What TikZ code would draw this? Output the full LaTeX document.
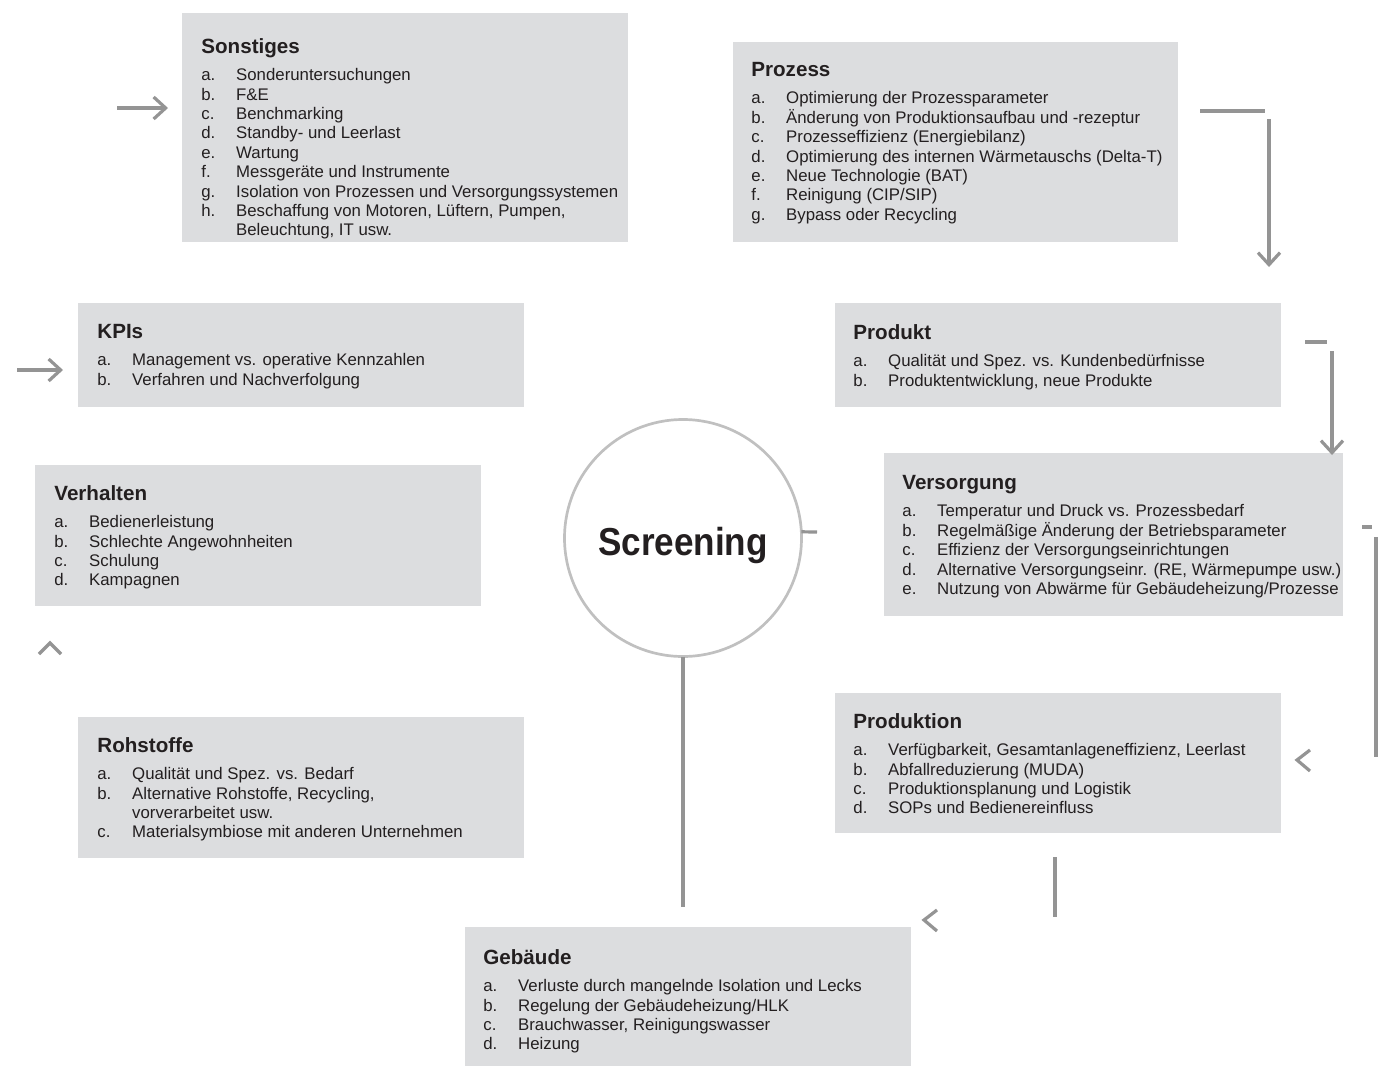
\documentclass[tikz,border=0pt]{standalone}
\usepackage{fontspec}
\setmainfont{Liberation Sans}
\newfontfamily\narrowsans[FakeStretch=0.9]{Liberation Sans}
\usetikzlibrary{arrows.meta}
\definecolor{panelgray}{RGB}{220,221,223}
\definecolor{flowgray}{RGB}{148,148,148}
\definecolor{ringgray}{RGB}{192,192,192}
\definecolor{inkdark}{RGB}{35,31,32}
\tikzset{panel/.style={fill=panelgray, anchor=north west, inner sep=0pt, outer sep=0pt},
  txt/.style={anchor=north west, inner sep=0pt, align=left, text=inkdark, font=\fontsize{8.4}{9.7}\selectfont},
  flow/.style={draw=flowgray, line width=1.6pt},
  tip/.style={-{Straight Barb[length=6pt,width=11pt]}}}
\newcommand{\ttl}[1]{{\fontsize{10.3}{9.7}\selectfont\bfseries #1}\\[4pt]}
\newcommand{\itm}[2]{\makebox[17.4pt][l]{#1}#2}

\begin{document}
\begin{tikzpicture}[x=0.5pt,y=-0.5pt]
            \useasboundingbox (0,0) rectangle (1381,1066);
            % panels
            \node[panel, minimum width=223pt, minimum height=114.5pt] (sonst) at (182,13) {};
            \node[panel, minimum width=222.5pt, minimum height=100pt] (proz) at (733,42) {};
            \node[panel, minimum width=223pt, minimum height=52pt] (kpi) at (78,303) {};
            \node[panel, minimum width=223pt, minimum height=52pt] (prod) at (835,303) {};
            \node[panel, minimum width=223pt, minimum height=70.5pt] (verh) at (35,465) {};
            \node[panel, minimum width=229.5pt, minimum height=81.5pt] (vers) at (884,453) {};
            \node[panel, minimum width=223pt, minimum height=70.5pt] (roh) at (78,717) {};
            \node[panel, minimum width=223pt, minimum height=70pt] (fert) at (835,693) {};
            \node[panel, minimum width=223pt, minimum height=69.5pt] (geb) at (465,927) {};
            % texts
            \node[txt] (sonst-t) at (201,38) {\ttl{Sonstiges}
              \itm{a.}{Sonderuntersuchungen}\\ \itm{b.}{F\&E}\\ \itm{c.}{Benchmarking}\\
              \itm{d.}{Standby- und Leerlast}\\ \itm{e.}{Wartung}\\ \itm{f.}{Messgeräte und Instrumente}\\
              \itm{g.}{Isolation von Prozessen und Versorgungssystemen}\\
              \itm{h.}{Beschaffung von Motoren, Lüftern, Pumpen,}\\ \itm{}{Beleuchtung, IT usw.}};
            \node[txt] (proz-t) at (751,62) {\ttl{Prozess}
              \itm{a.}{Optimierung der Prozessparameter}\\ \itm{b.}{Änderung von Produktionsaufbau und -rezeptur}\\
              \itm{c.}{Prozesseffizienz (Energiebilanz)}\\ \itm{d.}{Optimierung des internen Wärmetauschs (Delta-T)}\\
              \itm{e.}{Neue Technologie (BAT)}\\ \itm{f.}{Reinigung (CIP/SIP)}\\ \itm{g.}{Bypass oder Recycling}};
            \node[txt] (kpi-t) at (97,324) {\ttl{KPIs}
              \itm{a.}{Management vs. operative Kennzahlen}\\ \itm{b.}{Verfahren und Nachverfolgung}};
            \node[txt] (prod-t) at (853,324) {\ttl{Produkt}
              \itm{a.}{Qualität und Spez. vs. Kundenbedürfnisse}\\ \itm{b.}{Produktentwicklung, neue Produkte}};
            \node[txt] (verh-t) at (54,485) {\ttl{Verhalten}
              \itm{a.}{Bedienerleistung}\\ \itm{b.}{Schlechte Angewohnheiten}\\ \itm{c.}{Schulung}\\ \itm{d.}{Kampagnen}};
            \node[txt] (vers-t) at (902,475) {\ttl{Versorgung}
              \itm{a.}{Temperatur und Druck vs. Prozessbedarf}\\ \itm{b.}{Regelmäßige Änderung der Betriebsparameter}\\
              \itm{c.}{Effizienz der Versorgungseinrichtungen}\\ \itm{d.}{Alternative Versorgungseinr. (RE, Wärmepumpe usw.)}\\
              \itm{e.}{Nutzung von Abwärme für Gebäudeheizung/Prozesse}};
            \node[txt] (roh-t) at (97,737) {\ttl{Rohstoffe}
              \itm{a.}{Qualität und Spez. vs. Bedarf}\\ \itm{b.}{Alternative Rohstoffe, Recycling,}\\
              \itm{}{vorverarbeitet usw.}\\ \itm{c.}{Materialsymbiose mit anderen Unternehmen}};
            \node[txt] (fert-t) at (853,713) {\ttl{Produktion}
              \itm{a.}{Verfügbarkeit, Gesamtanlageneffizienz, Leerlast}\\ \itm{b.}{Abfallreduzierung (MUDA)}\\
              \itm{c.}{Produktionsplanung und Logistik}\\ \itm{d.}{SOPs und Bedienereinfluss}};
            \node[txt] (geb-t) at (483,949) {\ttl{Gebäude}
              \itm{a.}{Verluste durch mangelnde Isolation und Lecks}\\ \itm{b.}{Regelung der Gebäudeheizung/HLK}\\
              \itm{c.}{Brauchwasser, Reinigungswasser}\\ \itm{d.}{Heizung}};
            % centre
            \node[circle, draw=ringgray, line width=1.35pt, minimum size=118.5pt, inner sep=0pt, outer sep=0pt] (screen) at (683,538) {};
            \node[anchor=base, inner sep=0pt, text=inkdark, font=\narrowsans\fontsize{19.5}{22}\selectfont\bfseries] (screen-t) at ([yshift=-8.5pt]screen.center) {Screening};
            % free ends
            \coordinate (s-in) at (117,108);   \coordinate (s-tip) at (168,108);
            \coordinate (k-in) at (17,370);    \coordinate (k-tip) at (63,370);
            \coordinate (p-a) at (1200,111);   \coordinate (p-b) at (1265,111);
            \coordinate (p-c) at (1269,119);   \coordinate (p-tip) at (1269,267);
            \coordinate (d-a) at (1305,342);   \coordinate (d-b) at (1327,342);
            \coordinate (d-c) at (1332,351);   \coordinate (d-tip) at (1332,455);
            \coordinate (v-a) at (1362,527);   \coordinate (v-b) at (1372,527);
            \coordinate (v-c) at (1376,537);   \coordinate (v-d) at (1376,757);
            \coordinate (f-a) at (1055,857);   \coordinate (f-b) at (1055,917);
            \coordinate (c-r) at (817,532);    \coordinate (c-b) at (683,907);
            % connectors
            \draw[flow, tip] (s-in) -- (s-tip);
            \draw[flow, tip] (k-in) -- (k-tip);
            \draw[flow] (p-a) -- (p-b);
            \draw[flow, tip] (p-c) -- (p-tip);
            \draw[flow] (d-a) -- (d-b);
            \draw[flow, tip] (d-c) -- (d-tip);
            \draw[flow] (v-a) -- (v-b);
            \draw[flow] (v-c) -- (v-d);
            \draw[flow] (f-a) -- (f-b);
            \draw[flow] (screen.3) -- (c-r);
            \draw[flow] (screen.south) -- (c-b);
            % loose chevrons
            \draw[flow] (39,654) -- (50,643) -- (61,654);
            \draw[flow] (1310,750) -- (1297,760) -- (1310,771);
            \draw[flow] (937,910) -- (924,920) -- (937,931);
        \end{tikzpicture}
\end{document}
